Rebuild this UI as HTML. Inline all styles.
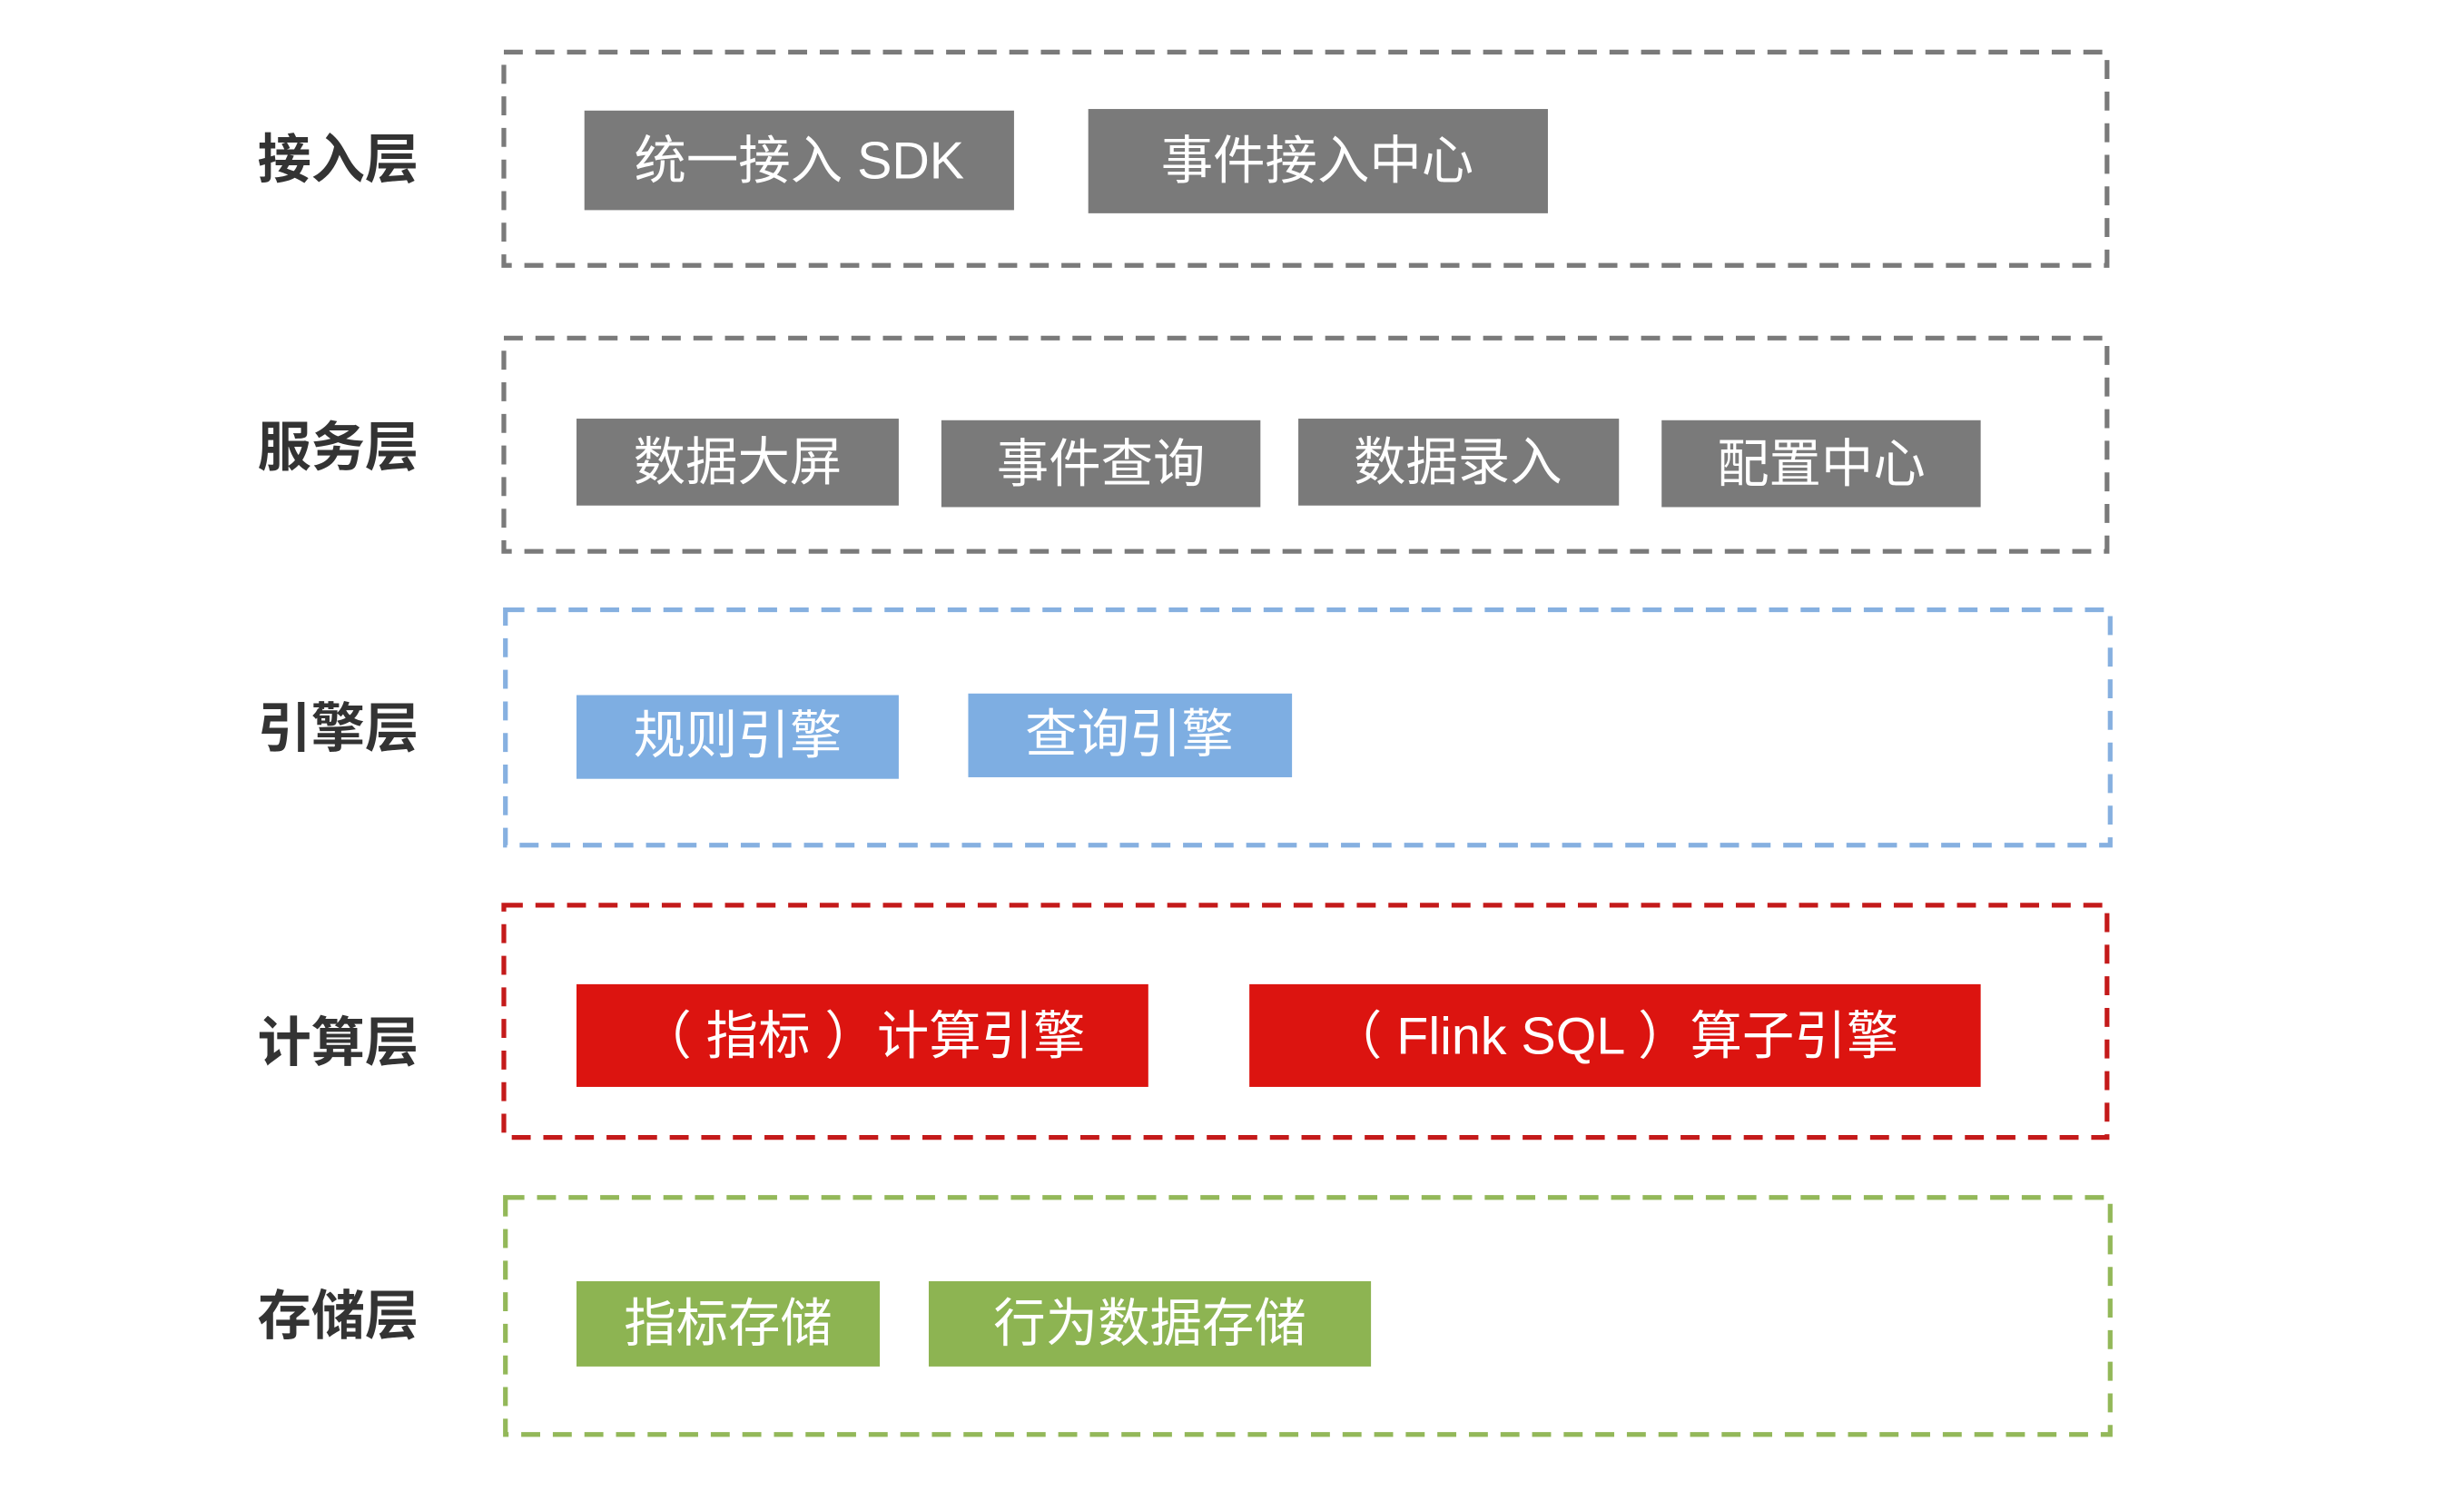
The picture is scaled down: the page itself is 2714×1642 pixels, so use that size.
<!DOCTYPE html>
<html><head><meta charset="utf-8"><style>
html,body{margin:0;padding:0;background:#fff;}
svg{display:block;}
text{font-family:"Liberation Sans","Noto Sans CJK SC",sans-serif;}
</style></head><body>
<svg width="2714" height="1642" viewBox="0 0 1560 943.8" preserveAspectRatio="none" xmlns="http://www.w3.org/2000/svg">
<rect width="1560" height="944" fill="#fff"/>
<g fill="none" stroke-width="3" stroke-dasharray="12 8">
<rect x="319" y="33" width="1015" height="135" stroke="#7a7a7a"/>
<rect x="319" y="214" width="1015" height="135" stroke="#7a7a7a"/>
<rect x="320" y="386" width="1016" height="149" stroke="#86b0e0"/>
<rect x="319" y="573" width="1015" height="147" stroke="#c41a1a"/>
<rect x="320" y="758" width="1016" height="150" stroke="#93b859"/>
</g>
<g font-size="34" font-weight="bold" fill="#333" text-anchor="middle" dominant-baseline="central">
<text x="214" y="101">接入层</text>
<text x="214" y="283">服务层</text>
<text x="214" y="461">引擎层</text>
<text x="214" y="660">计算层</text>
<text x="214" y="833">存储层</text>
</g>
<g fill="#7a7a7a">
<rect x="370" y="70" width="272" height="63"/>
<rect x="689" y="69" width="291" height="66"/>
<rect x="365" y="265" width="204" height="55"/>
<rect x="596" y="266" width="202" height="55"/>
<rect x="822" y="265" width="203" height="55"/>
<rect x="1052" y="266" width="202" height="55"/>
</g>
<g fill="#7eaee2">
<rect x="365" y="440" width="204" height="53"/>
<rect x="613" y="439" width="205" height="53"/>
</g>
<g fill="#dc1410">
<rect x="365" y="623" width="362" height="65"/>
<rect x="791" y="623" width="463" height="65"/>
</g>
<g fill="#8db452">
<rect x="365" y="811" width="192" height="54"/>
<rect x="588" y="811" width="280" height="54"/>
</g>
<g font-size="33" fill="#fff" text-anchor="middle" dominant-baseline="central">
<text x="506" y="102">统一接入 SDK</text>
<text x="834" y="102">事件接入中心</text>
<text x="467" y="293">数据大屏</text>
<text x="697" y="294">事件查询</text>
<text x="923" y="293">数据录入</text>
<text x="1153" y="294">配置中心</text>
<text x="467" y="466">规则引擎</text>
<text x="715" y="465">查询引擎</text>
<text x="546" y="656">（ 指标 ）计算引擎</text>
<text x="1022" y="656">（ Flink SQL ）算子引擎</text>
<text x="461" y="838">指标存储</text>
<text x="728" y="838">行为数据存储</text>
</g>
</svg>
</body></html>
